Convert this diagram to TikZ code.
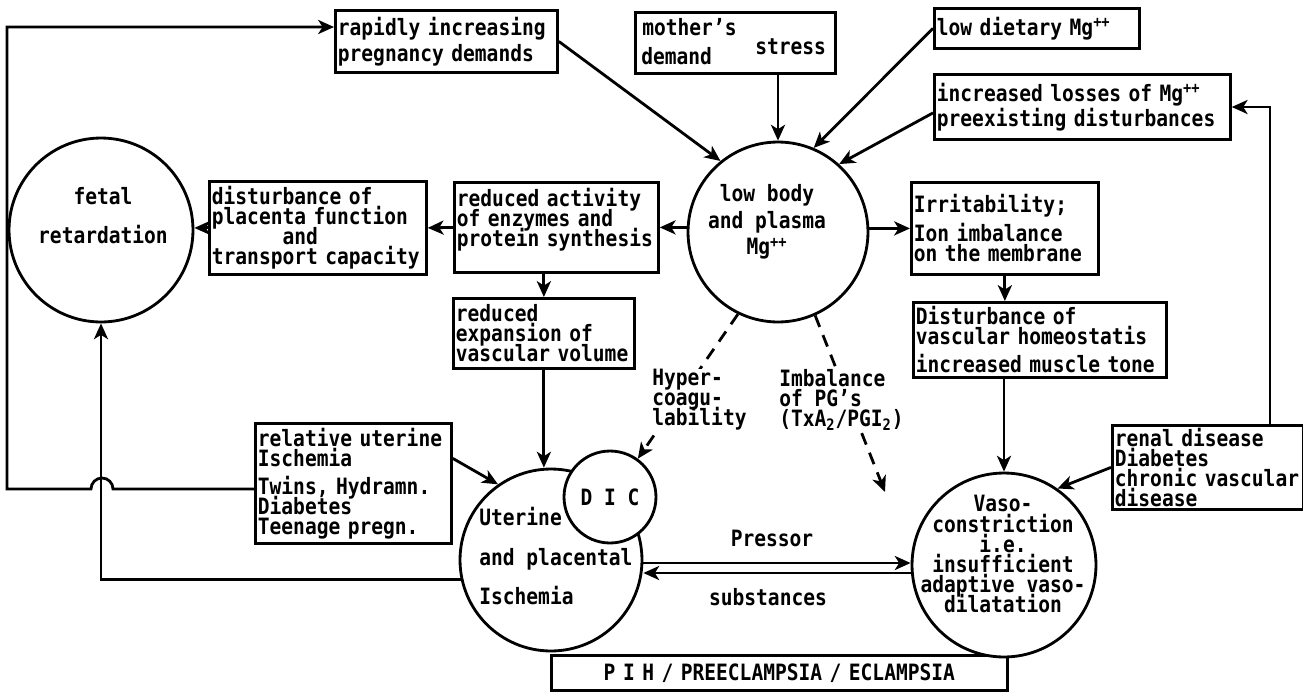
\documentclass[tikz,border=0pt]{standalone}
\usepackage{fontspec}
\newfontfamily\diagfont[FakeStretch=0.87]{DejaVu Sans Mono}
\usetikzlibrary{arrows.meta}
\newcommand\diagtext{\diagfont\bfseries\fontsize{12.8}{11.4}\selectfont\lineskiplimit=-20pt\relax}

\tikzset{
  txt/.style={inner sep=0pt, font=\diagtext},
  box/.style={txt, draw, line width=1.6pt, anchor=north west, align=left, inner xsep=0.05cm},
  ring/.style={circle, draw, line width=1.6pt, fill=white, inner sep=0pt},
  arr/.style={line width=1.6pt, -{Stealth[length=9pt,width=8pt,inset=2.5pt]}},
  dasharr/.style={arr, dash pattern=on 7pt off 5pt},
}

\begin{document}
\begin{tikzpicture}[x=0.02cm, y=-0.02cm]
  \useasboundingbox (0,0) rectangle (1303,694);

  \node[box, align=center, text width=9.02cm, minimum height=0.7cm] (pih) at (550,654) {P I H / PREECLAMPSIA / ECLAMPSIA};

  % circles
  \node[ring, minimum size=3.68cm] (fetal) at (101,230) {};
  \node[txt, align=center] (fetaltxt) at (103,216) {fetal\\[0.38cm]retardation};
  \node[ring, minimum size=3.6cm] (lowmg) at (778,232) {};
  \node[txt, align=center] (lowmgtxt) at (767,222) {low body\\[0.14cm]and plasma\\[0.12cm]Mg\textsuperscript{++}};
  \node[ring, minimum size=3.64cm] (uterine) at (551,560) {};
  \node[txt, ring, minimum size=1.84cm] (dic) at (610,497) {D I C};
  \node[txt, align=left, anchor=west] (uterinetxt) at (479,556) {Uterine\\[0.4cm]and placental\\[0.36cm]Ischemia};
  \node[ring, minimum size=3.68cm] (vaso) at (1004,565) {};
  \node[txt, align=center] (vasotxt) at (1003,554) {Vaso-\\constriction\\i.e.\\insufficient\\adaptive vaso-\\dilatation};

  % boxes
  \node[box, text width=4.34cm, minimum height=1.24cm] (rapid) at (334,9) {rapidly increasing\\[0.12cm]pregnancy demands};
  \node[box, minimum width=4cm, minimum height=1.22cm] (mother) at (634,11) {};
  \node[txt, anchor=west] (mothertxt) at (642,27) {mother’s};
  \node[txt, anchor=west] (demandtxt) at (641,56) {demand};
  \node[txt, anchor=west] (stresstxt) at (755,47) {stress};
  \node[box, text width=4.0cm, minimum height=0.8cm] (dietary) at (933,7) {low dietary Mg\textsuperscript{++}};
  \node[box, text width=5.82cm, minimum height=1.3cm] (losses) at (933,73) {increased losses of Mg\textsuperscript{++}\\[0.1cm]preexisting disturbances};
  \node[box, text width=4.24cm, minimum height=1.86cm] (placenta) at (208,180) {disturbance of\\placenta function\\\phantom{xxxxxx}and\\transport capacity};
  \node[box, text width=3.98cm, minimum height=1.8cm] (enzymes) at (453,181) {reduced activity\\of enzymes and\\protein synthesis\\\mbox{}};
  \node[box, text width=3.52cm, minimum height=1.4cm] (expansion) at (452,297) {reduced\\expansion of\\vascular volume};
  \node[box, text width=3.64cm, minimum height=1.84cm] (irrit) at (910,181) {Irritability;\\[0.18cm]Ion imbalance\\on the membrane};
  \node[box, text width=4.96cm, minimum height=1.5cm] (homeo) at (912,301) {Disturbance of\\vascular homeostatis\\[0.16cm]increased muscle tone};
  \node[box, text width=3.82cm, minimum height=2.4cm] (relative) at (254,422) {relative uterine\\Ischemia\\[0.16cm]Twins, Hydramn.\\Diabetes\\Teenage pregn.};
  \node[box, text width=3.72cm, minimum height=1.68cm] (renal) at (1111,424) {renal disease\\Diabetes\\chronic vascular\\disease};

  \coordinate (pgtip) at (885,492);
  \coordinate (loopnw) at (7,27);
  \coordinate (loopsw) at (7,489);
  \coordinate (hop) at (113,489);
  \coordinate (rturn) at (1270,107);
  \coordinate (pup) at (0,563);
  \coordinate (plow) at (0,573);

  % connectors
  \draw[arr] (rapid.east) -- (lowmg.129);
  \draw[arr] (lowmg.north |- mother.south) -- (lowmg.north);
  \draw[arr] (dietary.west) -- (lowmg.67);
  \draw[arr] ([yshift=-0.12cm]losses.west) -- (lowmg.48);
  \draw[arr] (lowmg.west |- enzymes.east) -- (enzymes.east);
  \draw[arr] (lowmg.east |- irrit.west) -- (irrit.west);
  \draw[arr] (enzymes.west) -- (placenta.east);
  \draw[arr] (placenta.west) -- (placenta.west -| fetal.east);
  \draw[arr] (expansion.north |- enzymes.south) -- (expansion.north);
  \draw[arr] (expansion.south) -- (expansion.south |- uterine.north);
  \draw[arr] (irrit.south) -- (irrit.south |- homeo.north);
  \draw[arr] (vaso.north |- homeo.south) -- (vaso.north);
  \draw[arr] (renal.west) -- (vaso.55);
  \draw[arr] (rturn |- renal.north) -- (rturn) -- (losses.east |- rturn);
  \draw[arr] ([yshift=0.5cm]relative.east) -- (uterine.125);
  \draw[arr] (uterine.east |- pup) -- (vaso.west |- pup);
  \draw[arr] (vaso.west |- plow) -- (uterine.east |- plow);
  \draw[arr] (uterine.192) -| (fetal.south);
  \draw[arr] (relative.west |- hop) -- (hop) arc[start angle=0, end angle=180, radius=0.22cm]
    -- (loopsw) -- (loopnw) -- (rapid.west |- loopnw);
  \draw[dasharr] (lowmg.244) -- (dic.54);
  \draw[dasharr] (lowmg.294) -- (pgtip);

  \node[txt, align=left, anchor=north west, fill=white] (hyper) at (652,369) {Hyper-\\coagu-\\lability};
  \node[txt, align=left, anchor=north west, fill=white] (pgs) at (779,369) {Imbalance\\of PG’s\\(TxA\textsubscript{2}/PGI\textsubscript{2})};
  \node[txt] (pressor) at (772,538) {Pressor};
  \node[txt] (subst) at (768,597) {substances};
\end{tikzpicture}
\end{document}
